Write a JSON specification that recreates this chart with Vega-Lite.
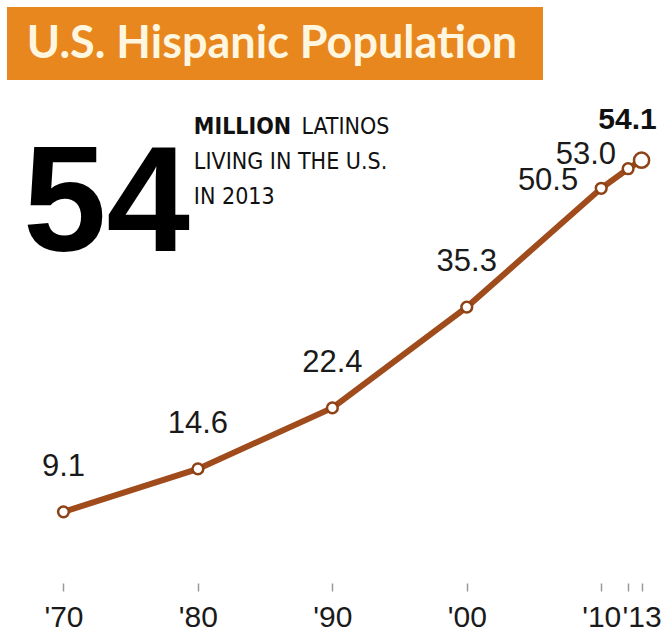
{
  "$schema": "https://vega.github.io/schema/vega-lite/v6.json",
  "padding": {"left": 7, "top": 7, "right": 0, "bottom": 0},
  "bounds": "flush",
  "spacing": 9,
  "background": "white",
  "config": {"view": {"stroke": null}},
  "vconcat": [
    {
      "width": 536,
      "height": 73,
      "view": {"fill": "#E8871E", "stroke": null},
      "data": {"values": [{"title": "U.S. Hispanic Population"}]},
      "mark": {"type": "text", "font": "Lato", "fontWeight": "bold", "fontSize": 45, "color": "#FFF6E0", "align": "center", "baseline": "middle", "dx": -3},
      "encoding": {"text": {"field": "title"}}
    },
    {
      "width": 648,
      "height": 494,
      "data": {"values": [
        {"year": 1970, "value": 9.1},
        {"year": 1980, "value": 14.6},
        {"year": 1990, "value": 22.4},
        {"year": 2000, "value": 35.3},
        {"year": 2010, "value": 50.5},
        {"year": 2012, "value": 53.0},
        {"year": 2013, "value": 54.1}
      ]},
      "encoding": {
        "x": {"field": "year", "type": "quantitative", "scale": {"domain": [1965.8, 2014], "nice": false, "zero": false},
          "axis": {"values": [1970, 1980, 1990, 2000, 2010, 2012, 2013], "title": null, "grid": false, "domain": false,
            "tickColor": "#999999", "tickSize": 8, "tickWidth": 1.5, "labelFont": "Liberation Sans", "labelFontSize": 30, "labelColor": "#1a1a1a",
            "labelPadding": 11, "labelOverlap": false, "labelFlush": false, "labelBound": false,
            "labelExpr": "datum.value == 2012 ? '' : \"'\" + slice(toString(datum.value), 2)"}},
        "y": {"field": "value", "type": "quantitative", "scale": {"domain": [0, 63.2], "nice": false}, "axis": null}
      },
      "layer": [
        {
          "mark": {"type": "rule", "color": "#999999", "strokeWidth": 1.5},
          "encoding": {
            "x": {"aggregate": "min", "field": "year", "type": "quantitative"},
            "x2": {"aggregate": "max", "field": "year"},
            "y": {"datum": 0}
          }
        },
        {
          "mark": {"type": "line", "color": "#A04B1C", "strokeWidth": 6}
        },
        {
          "transform": [{"filter": "datum.year != 2013"}],
          "mark": {"type": "point", "shape": "circle", "filled": true, "fill": "#ffffff", "stroke": "#8E4216", "strokeWidth": 2.5, "size": 115, "opacity": 1}
        },
        {
          "transform": [{"filter": "datum.year == 2013"}],
          "mark": {"type": "point", "shape": "circle", "filled": true, "fill": "#ffffff", "stroke": "#8E4216", "strokeWidth": 2.5, "size": 230, "opacity": 1}
        },
        {
          "transform": [{"filter": "datum.year <= 2000"}],
          "mark": {"type": "text", "font": "Liberation Sans", "fontSize": 31, "color": "#1a1a1a", "align": "center", "baseline": "alphabetic", "dy": -36},
          "encoding": {"text": {"field": "value", "type": "quantitative", "format": ".1f"}}
        },
        {
          "transform": [{"filter": "datum.year == 2010"}],
          "mark": {"type": "text", "font": "Liberation Sans", "fontSize": 31, "color": "#1a1a1a", "align": "right", "baseline": "alphabetic", "dx": -23, "dy": 2},
          "encoding": {"text": {"field": "value", "type": "quantitative", "format": ".1f"}}
        },
        {
          "transform": [{"filter": "datum.year == 2012"}],
          "mark": {"type": "text", "font": "Liberation Sans", "fontSize": 31, "color": "#1a1a1a", "align": "right", "baseline": "alphabetic", "dx": -12, "dy": -5},
          "encoding": {"text": {"field": "value", "type": "quantitative", "format": ".1f"}}
        },
        {
          "transform": [{"filter": "datum.year == 2013"}],
          "mark": {"type": "text", "font": "Liberation Sans", "fontWeight": "bold", "fontSize": 30, "color": "#111111", "align": "center", "baseline": "alphabetic", "dx": -14, "dy": -31},
          "encoding": {"text": {"field": "value", "type": "quantitative", "format": ".1f"}}
        },
        {
          "transform": [{"filter": "datum.year == 2013"}],
          "mark": {"type": "text", "font": "Liberation Sans", "fontWeight": "bold", "fontSize": 150, "color": "#000000", "align": "center", "baseline": "alphabetic"},
          "encoding": {
            "x": {"datum": 1973.2},
            "y": {"datum": 42.48},
            "text": {"field": "value", "type": "quantitative", "format": ".0f"}
          }
        },
        {
          "transform": [{"filter": "datum.year == 2013"}],
          "mark": {"type": "text", "text": "MILLION", "font": "DejaVu Sans Condensed", "fontWeight": "bold", "fontSize": 23, "color": "#111111", "align": "left", "baseline": "alphabetic"},
          "encoding": {"x": {"datum": 1979.7}, "y": {"datum": 57.45}}
        },
        {
          "transform": [{"filter": "datum.year == 2013"}],
          "mark": {"type": "text", "text": "LATINOS", "font": "DejaVu Sans Condensed", "fontSize": 23, "color": "#111111", "align": "left", "baseline": "alphabetic"},
          "encoding": {"x": {"datum": 1987.7}, "y": {"datum": 57.45}}
        },
        {
          "transform": [{"filter": "datum.year == 2013"}],
          "mark": {"type": "text", "text": ["LIVING IN THE U.S.", "IN 2013"], "font": "DejaVu Sans Condensed", "fontSize": 23, "color": "#111111", "align": "left", "baseline": "alphabetic", "lineHeight": 35},
          "encoding": {"x": {"datum": 1979.7}, "y": {"datum": 52.97}}
        }
      ]
    }
  ]
}
